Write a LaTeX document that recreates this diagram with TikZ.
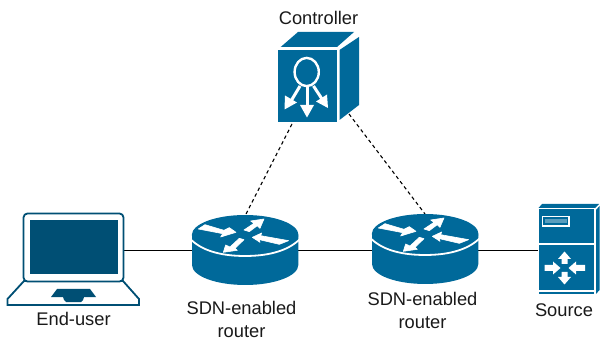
\documentclass[tikz,border=0pt]{standalone}
\usepackage{fontspec}
\setmainfont{Liberation Sans}
\usetikzlibrary{arrows.meta}
\definecolor{blu}{HTML}{00699A}
\definecolor{dblu}{HTML}{004F74}
\tikzset{
  lbl/.style={font=\fontsize{18.3}{23}\selectfont,align=center,text=black!90,inner sep=0pt},
  slot/.style={draw=none,fill=none,inner sep=0pt},
  link/.style={draw=black,line width=0.9pt},
  ctl/.style={draw=black,line width=1.1pt,dash pattern=on 3.5pt off 3pt},
  rarrow/.style={fill=white,draw=white,line width=0.6pt,line join=round}
}
\newcommand{\routericon}[2]{%
\begin{scope}[shift={(#1,#2)},x=0.3333pt,y=-0.3333pt]
  \fill[blu] (36,92) -- (36,180) .. controls (36,213) and (107,240) .. (195.5,240) .. controls (284,240) and (355,213) .. (355,180) -- (355,92) -- cycle;
  \fill[blu] (195.5,90) ellipse[x radius=160,y radius=60];
  \draw[white,line width=1.8pt] (33,104) .. controls (70,140) and (130,153) .. (195,153) .. controls (260,153) and (320,140) .. (358,104);
  \path[rarrow] (55,72) -- (75,59) -- (132,76) -- (148,68) -- (168,82) -- (122,96) -- (128,86) -- cycle;
  \path[rarrow] (192,75) -- (222,55) -- (212,48) -- (252,42) -- (240,70) -- (232,62) -- (208,80) -- cycle;
  \path[rarrow] (217,97) -- (245,84) -- (242,92) -- (326,107) -- (298,118) -- (238,104) -- (240,112) -- cycle;
  \path[rarrow] (130,142) -- (137,120) -- (150,126) -- (178,100) -- (192,104) -- (165,130) -- (172,136) -- cycle;
\end{scope}}
\begin{document}
\begin{tikzpicture}[x=1pt,y=-1pt]
\useasboundingbox (0,0) rectangle (600,339);
% layout slots
\node[slot,minimum width=81pt,minimum height=90pt] (ctrl) at (318.5,77) {};
\node[slot,minimum width=101pt,minimum height=74pt] (laptop) at (73.5,250) {};
\node[slot,minimum width=106pt,minimum height=70pt] (r1) at (245,250) {};
\node[slot,minimum width=105pt,minimum height=70pt] (r2) at (424.5,250) {};
\node[slot,minimum width=61pt,minimum height=82pt] (srv) at (568.5,250) {};
\coordinate (cl) at (292,124);
\coordinate (cr) at (349,114);
\coordinate (t1) at (245,216);
\coordinate (t2) at (425,214);
% connectors
\draw[link] (laptop.east) -- (r1.west);
\draw[link] (r1.east) -- (r2.west);
\draw[link] (r2.east) -- (srv.west);
\draw[ctl] (cl) -- (t1);
\draw[ctl] (cr) -- (t2);
% controller
\fill[blu] (278,50) rectangle (337,122);
\fill[blu] (280.7,47) -- (298,32) -- (354,32) -- (337,47) -- cycle;
\fill[blu] (339.5,50) -- (359,37) -- (359,105) -- (339.5,120) -- cycle;
\draw[white,line width=2.4pt] (306.7,72) ellipse[x radius=12.1,y radius=14.1];
\begin{scope}[white,line width=3pt]
 \draw (300,86) -- (291,101);
 \draw (307,87) -- (307,106);
 \draw (313.5,86) -- (322,99);
\end{scope}
\fill[white] (284.5,109.5) -- (285,95.5) -- (297,102.5) -- cycle;
\fill[white] (307,117.5) -- (300,105) -- (314,105) -- cycle;
\fill[white] (328,108) -- (316,101.5) -- (327,94.5) -- cycle;
% laptop
\draw[dblu,fill=white,line width=1.8pt,rounded corners=4pt] (7.5,305) [sharp corners] -- (7.5,299) -- (24,281) -- (123,281) -- (139,299) -- (139,305) -- cycle;
\draw[dblu,fill=white,line width=1.8pt,rounded corners=4pt] (23.5,213.5) rectangle (123.5,281.5);
\fill[dblu] (29.5,220) rectangle (117.5,274);
\fill[dblu] (57,289) -- (90,289) -- (96,297) -- (84,297) -- (83,300) -- (81,302) -- (66,302) -- (64,300) -- (63,297) -- (51,297) -- cycle;
% routers
\routericon{180}{205}
\routericon{360}{204}
% server
\fill[blu] (538.5,209) rectangle (594,243);
\fill[blu] (538.5,245) rectangle (594,290);
\fill[blu] (538.5,292) rectangle (594,294);
\fill[blu] (542,204) -- (599,204) -- (595,208) -- (538.5,208) -- cycle;
\fill[blu] (596,210) -- (599.5,206) -- (599.5,290) -- (596,294) -- cycle;
\draw[white,line width=1.2pt,fill=blu] (542.5,216.5) rectangle (569,226);
\fill[white,fill opacity=.35] (545,219) rectangle (566.5,223.5);
\fill[white] (564.5,251.5) -- (571,259) -- (567.5,259) -- (567.5,264) -- (561.5,264) -- (561.5,259) -- (558,259) -- cycle;
\fill[white] (564.5,284.5) -- (571,277) -- (567.5,277) -- (567.5,272) -- (561.5,272) -- (561.5,277) -- (558,277) -- cycle;
\fill[white] (560.5,268) -- (553,261.5) -- (553,265) -- (544.5,265) -- (544.5,271) -- (553,271) -- (553,274.5) -- cycle;
\fill[white] (568.5,268) -- (576,261.5) -- (576,265) -- (585,265) -- (585,271) -- (576,271) -- (576,274.5) -- cycle;
% labels
\node[lbl] (lc) at (318.5,18) {Controller};
\node[lbl] (le) at (73.5,319) {End-user};
\node[lbl] (l1) at (241.5,319) {SDN-enabled\\router};
\node[lbl] (l2) at (422.5,310) {SDN-enabled\\router};
\node[lbl] (ls) at (564,310) {Source};
\end{tikzpicture}
\end{document}
